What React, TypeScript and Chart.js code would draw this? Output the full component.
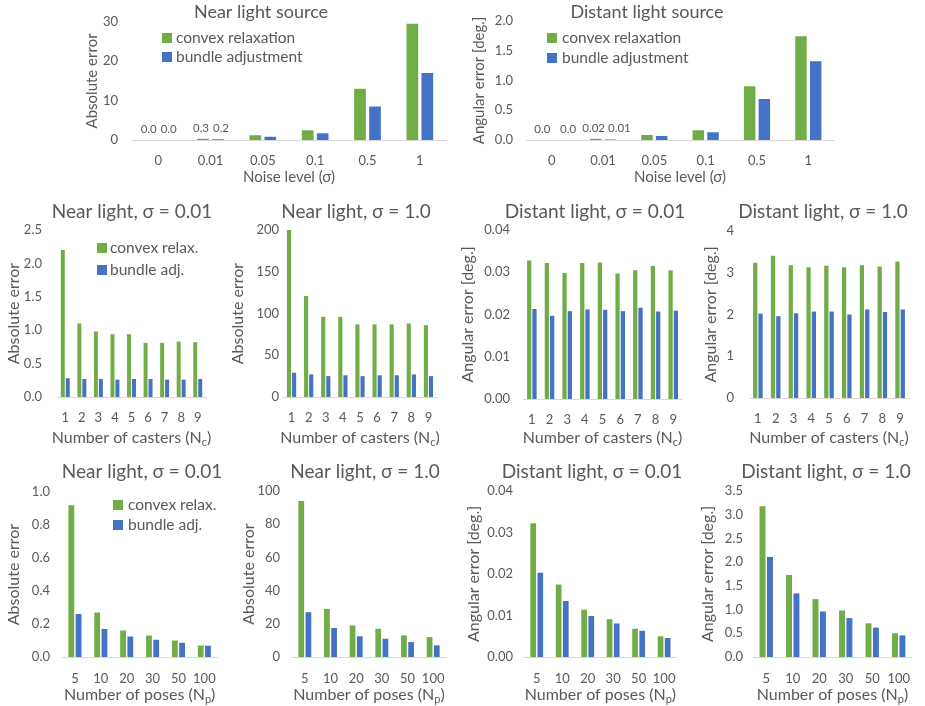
import React, { useEffect, useRef } from 'react';
import { Chart, registerables } from 'chart.js';
Chart.register(...registerables);

const GREEN = '#70AD47';
const BLUE = '#4472C4';
const TEXT = '#595959';
const AXIS = '#D9D9D9';
const FONT = 'Lato, "Open Sans", "DejaVu Sans", sans-serif';

// ---------- data ----------
const noiseLabels = ['0', '0.01', '0.05', '0.1', '0.5', '1'];
const nearNoiseConvex = [0.0, 0.3, 1.2, 2.5, 13.0, 29.5];
const nearNoiseBundle = [0.0, 0.2, 0.8, 1.7, 8.5, 17.0];
const distNoiseConvex = [0.0, 0.02, 0.083, 0.165, 0.9, 1.74];
const distNoiseBundle = [0.0, 0.01, 0.066, 0.13, 0.69, 1.32];
const labeledCats = [0, 1];
const nearLabelDecimals = [1, 1];
const distLabelDecimals = [1, 2];

const casterLabels = ['1', '2', '3', '4', '5', '6', '7', '8', '9'];
const nearC001Convex = [2.2, 1.1, 0.98, 0.94, 0.94, 0.81, 0.81, 0.83, 0.82];
const nearC001Bundle = [0.28, 0.27, 0.27, 0.26, 0.27, 0.27, 0.26, 0.26, 0.27];
const nearC1Convex = [200, 121, 96, 96, 87, 87, 87, 88, 86];
const nearC1Bundle = [29, 27, 25, 26, 25, 26, 26, 27, 25];
const distC001Convex = [0.0328, 0.0322, 0.0298, 0.0322, 0.0323, 0.0297, 0.0305, 0.0315, 0.0305];
const distC001Bundle = [0.0213, 0.0197, 0.0208, 0.0212, 0.0211, 0.0208, 0.0216, 0.0207, 0.0209];
const distC1Convex = [3.24, 3.41, 3.18, 3.13, 3.17, 3.13, 3.18, 3.15, 3.27];
const distC1Bundle = [2.02, 1.96, 2.03, 2.07, 2.07, 2.0, 2.12, 2.06, 2.12];

const poseLabels = ['5', '10', '20', '30', '50', '100'];
const nearP001Convex = [0.92, 0.27, 0.16, 0.13, 0.1, 0.07];
const nearP001Bundle = [0.26, 0.17, 0.125, 0.105, 0.087, 0.068];
const nearP1Convex = [94, 29, 19, 17, 13, 12];
const nearP1Bundle = [27, 17.5, 12.5, 11, 9, 7];
const distP001Convex = [0.0322, 0.0175, 0.0114, 0.0091, 0.0068, 0.005];
const distP001Bundle = [0.0203, 0.0135, 0.0099, 0.0081, 0.0063, 0.0046];
const distP1Convex = [3.18, 1.73, 1.22, 0.98, 0.71, 0.5];
const distP1Bundle = [2.11, 1.34, 0.96, 0.82, 0.62, 0.455];

const longLegend: [string, string] = ['convex relaxation', 'bundle adjustment'];
const shortLegend: [string, string] = ['convex relax.', 'bundle adj.'];

type Part = { t: string; sub?: boolean };
const noiseTitle: Part[] = [{ t: 'Noise level (σ)' }];
const casterTitle: Part[] = [{ t: 'Number of casters (N' }, { t: 'c', sub: true }, { t: ')' }];
const poseTitle: Part[] = [{ t: 'Number of poses (N' }, { t: 'p', sub: true }, { t: ')' }];

type PanelCfg = {
  id: string;
  box: [number, number, number, number];
  plot: [number, number, number, number];
  title: string;
  titleX: number;
  titleY: number;
  titleSize: number;
  yTitle: string;
  yTitleX: number;
  yTitleSize: number;
  yTickPad: number;
  yMax: number;
  yStep: number;
  yDec: number;
  xTitle: Part[];
  xTitleY: number;
  xTitleSize: number;
  xTickPad: number;
  labels: string[];
  convex: number[];
  bundle: number[];
  names: [string, string];
  catPct: number;
  barPct: number;
  legend?: { sqX: number; textX: number; y1: number; y2: number };
  dataLabelCats?: number[];
  dataLabelDec?: number[];
  labelNudge?: [number, number];
};

const panels: PanelCfg[] = [
  {
    id: 'A', box: [0, 0, 460, 190], plot: [132, 20, 446, 140],
    title: 'Near light source', titleX: 261, titleY: 12, titleSize: 18,
    yTitle: 'Absolute error', yTitleX: 92, yTitleSize: 15, yTickPad: 14, yMax: 30, yStep: 10, yDec: 0,
    xTitle: noiseTitle, xTitleY: 177, xTitleSize: 15, xTickPad: 13,
    labels: noiseLabels, convex: nearNoiseConvex, bundle: nearNoiseBundle, names: longLegend,
    catPct: 0.573, barPct: 0.78,
    legend: { sqX: 162, textX: 176, y1: 38, y2: 57 },
    dataLabelCats: labeledCats, dataLabelDec: nearLabelDecimals, labelNudge: [-2, 3],
  },
  {
    id: 'B', box: [460, 0, 465, 190], plot: [526, 19, 834, 140],
    title: 'Distant light source', titleX: 647, titleY: 12, titleSize: 18,
    yTitle: 'Angular error [deg.]', yTitleX: 479, yTitleSize: 15, yTickPad: 13, yMax: 2, yStep: 0.5, yDec: 1,
    xTitle: noiseTitle, xTitleY: 177, xTitleSize: 15, xTickPad: 13,
    labels: noiseLabels, convex: distNoiseConvex, bundle: distNoiseBundle, names: longLegend,
    catPct: 0.573, barPct: 0.78,
    legend: { sqX: 547, textX: 562, y1: 38, y2: 58 },
    dataLabelCats: labeledCats, dataLabelDec: distLabelDecimals, labelNudge: [-2, 9],
  },
  {
    id: 'M1', box: [0, 195, 230, 255], plot: [57, 230, 206, 397],
    title: 'Near light, σ = 0.01', titleX: 132, titleY: 212, titleSize: 19,
    yTitle: 'Absolute error', yTitleX: 14, yTitleSize: 16, yTickPad: 15, yMax: 2.5, yStep: 0.5, yDec: 1,
    xTitle: casterTitle, xTitleY: 438, xTitleSize: 16, xTickPad: 13,
    labels: casterLabels, convex: nearC001Convex, bundle: nearC001Bundle, names: shortLegend,
    catPct: 0.6, barPct: 0.8,
    legend: { sqX: 97, textX: 110, y1: 248, y2: 270 },
  },
  {
    id: 'M2', box: [230, 195, 230, 255], plot: [283, 230, 437, 397],
    title: 'Near light, σ = 1.0', titleX: 356, titleY: 212, titleSize: 19,
    yTitle: 'Absolute error', yTitleX: 237, yTitleSize: 16, yTickPad: 4, yMax: 200, yStep: 50, yDec: 0,
    xTitle: casterTitle, xTitleY: 438, xTitleSize: 16, xTickPad: 13,
    labels: casterLabels, convex: nearC1Convex, bundle: nearC1Bundle, names: shortLegend,
    catPct: 0.6, barPct: 0.8,
  },
  {
    id: 'M3', box: [460, 195, 230, 255], plot: [523, 230, 691, 399],
    title: 'Distant light, σ = 0.01', titleX: 595, titleY: 212, titleSize: 19,
    yTitle: 'Angular error [deg.]', yTitleX: 467, yTitleSize: 16, yTickPad: 13, yMax: 0.04, yStep: 0.01, yDec: 2,
    xTitle: casterTitle, xTitleY: 438, xTitleSize: 16, xTickPad: 13,
    labels: casterLabels, convex: distC001Convex, bundle: distC001Bundle, names: shortLegend,
    catPct: 0.6, barPct: 0.8,
  },
  {
    id: 'M4', box: [690, 195, 235, 255], plot: [749, 231, 909, 398],
    title: 'Distant light, σ = 1.0', titleX: 823, titleY: 212, titleSize: 19,
    yTitle: 'Angular error [deg.]', yTitleX: 711, yTitleSize: 16, yTickPad: 15, yMax: 4, yStep: 1, yDec: 0,
    xTitle: casterTitle, xTitleY: 438, xTitleSize: 16, xTickPad: 13,
    labels: casterLabels, convex: distC1Convex, bundle: distC1Bundle, names: shortLegend,
    catPct: 0.6, barPct: 0.8,
  },
  {
    id: 'B1', box: [0, 450, 230, 256], plot: [62, 492, 226, 657],
    title: 'Near light, σ = 0.01', titleX: 142, titleY: 472, titleSize: 19,
    yTitle: 'Absolute error', yTitleX: 13.5, yTitleSize: 16, yTickPad: 12, yMax: 1.0, yStep: 0.2, yDec: 1,
    xTitle: poseTitle, xTitleY: 695, xTitleSize: 16, xTickPad: 14,
    labels: poseLabels, convex: nearP001Convex, bundle: nearP001Bundle, names: shortLegend,
    catPct: 0.56, barPct: 0.8,
    legend: { sqX: 113, textX: 128, y1: 505, y2: 525 },
  },
  {
    id: 'B2', box: [230, 450, 230, 256], plot: [292, 491, 446, 657],
    title: 'Near light, σ = 1.0', titleX: 365, titleY: 472, titleSize: 19,
    yTitle: 'Absolute error', yTitleX: 249, yTitleSize: 16, yTickPad: 12, yMax: 100, yStep: 20, yDec: 0,
    xTitle: poseTitle, xTitleY: 695, xTitleSize: 16, xTickPad: 14,
    labels: poseLabels, convex: nearP1Convex, bundle: nearP1Bundle, names: shortLegend,
    catPct: 0.56, barPct: 0.8,
  },
  {
    id: 'B3', box: [460, 450, 230, 256], plot: [524, 491, 683, 657],
    title: 'Distant light, σ = 0.01', titleX: 592, titleY: 472, titleSize: 19,
    yTitle: 'Angular error [deg.]', yTitleX: 474, yTitleSize: 16, yTickPad: 11, yMax: 0.04, yStep: 0.01, yDec: 2,
    xTitle: poseTitle, xTitleY: 695, xTitleSize: 16, xTickPad: 14,
    labels: poseLabels, convex: distP001Convex, bundle: distP001Bundle, names: shortLegend,
    catPct: 0.56, barPct: 0.8,
  },
  {
    id: 'B4', box: [690, 450, 235, 256], plot: [753, 491, 913, 657],
    title: 'Distant light, σ = 1.0', titleX: 826, titleY: 472, titleSize: 19,
    yTitle: 'Angular error [deg.]', yTitleX: 708, yTitleSize: 16, yTickPad: 10, yMax: 3.5, yStep: 0.5, yDec: 1,
    xTitle: poseTitle, xTitleY: 695, xTitleSize: 16, xTickPad: 14,
    labels: poseLabels, convex: distP1Convex, bundle: distP1Bundle, names: shortLegend,
    catPct: 0.56, barPct: 0.8,
  },
];

function makeDeco(cfg: PanelCfg) {
  const [bl, bt] = cfg.box;
  return {
    id: 'deco' + cfg.id,
    afterDraw(chart: any) {
      const ctx: CanvasRenderingContext2D = chart.ctx;
      const ca = chart.chartArea;
      ctx.save();
      ctx.fillStyle = TEXT;
      ctx.textBaseline = 'middle';
      ctx.textAlign = 'center';
      ctx.font = `${cfg.titleSize}px ${FONT}`;
      ctx.fillText(cfg.title, cfg.titleX - bl, cfg.titleY - bt);

      // x-axis title with subscript
      const mainF = `${cfg.xTitleSize}px ${FONT}`;
      const subF = `${Math.round(cfg.xTitleSize * 0.66)}px ${FONT}`;
      let total = 0;
      for (const p of cfg.xTitle) {
        ctx.font = p.sub ? subF : mainF;
        total += ctx.measureText(p.t).width;
      }
      let x = (ca.left + ca.right) / 2 - total / 2;
      ctx.textAlign = 'left';
      for (const p of cfg.xTitle) {
        ctx.font = p.sub ? subF : mainF;
        ctx.fillText(p.t, x, cfg.xTitleY - bt + (p.sub ? 4 : 0));
        x += ctx.measureText(p.t).width;
      }

      // legend
      if (cfg.legend) {
        const lg = cfg.legend;
        ctx.font = `15.5px ${FONT}`;
        const items: [string, number, string][] = [
          [GREEN, lg.y1, chart.data.datasets[0].label],
          [BLUE, lg.y2, chart.data.datasets[1].label],
        ];
        for (const [c, y, s] of items) {
          ctx.fillStyle = c;
          ctx.fillRect(lg.sqX - bl, y - bt - 5, 10, 10);
          ctx.fillStyle = TEXT;
          ctx.fillText(s, lg.textX - bl, y - bt);
        }
      }

      // data labels
      if (cfg.dataLabelCats && cfg.dataLabelDec) {
        ctx.font = `11.5px ${FONT}`;
        ctx.fillStyle = TEXT;
        ctx.textAlign = 'center';
        ctx.textBaseline = 'bottom';
        const nudge = cfg.labelNudge ?? [0, 0];
        cfg.dataLabelCats.forEach((cat, k) => {
          for (let d = 0; d < 2; d++) {
            const el = chart.getDatasetMeta(d).data[cat];
            const v = chart.data.datasets[d].data[cat] as number;
            ctx.fillText(v.toFixed(cfg.dataLabelDec![k]), el.x + nudge[d], el.y - 5);
          }
        });
      }
      ctx.restore();
    },
  };
}

function Panel({ cfg }: { cfg: PanelCfg }) {
  const ref = useRef<HTMLCanvasElement>(null);
  useEffect(() => {
    const [bl, bt, bw, bh] = cfg.box;
    const [pl, pt, pr, pb] = cfg.plot;
    const l = pl - bl;
    const t = pt - bt;
    const r = pr - bl;
    const b = pb - bt;
    const chart = new Chart(ref.current!, {
      type: 'bar',
      data: {
        labels: cfg.labels,
        datasets: [
          { label: cfg.names[0], data: cfg.convex, backgroundColor: GREEN, categoryPercentage: cfg.catPct, barPercentage: cfg.barPct },
          { label: cfg.names[1], data: cfg.bundle, backgroundColor: BLUE, categoryPercentage: cfg.catPct, barPercentage: cfg.barPct },
        ],
      },
      options: {
        animation: false,
        responsive: false,
        devicePixelRatio: 1,
        layout: { padding: { left: 0, top: t, right: bw - r, bottom: 0 } },
        plugins: {
          legend: { display: false },
          title: { display: false },
          tooltip: { enabled: false },
        },
        scales: {
          x: {
            grid: { display: false, drawTicks: false },
            border: { display: true, color: AXIS, width: 1 },
            ticks: { color: TEXT, font: { size: 13, family: FONT }, padding: cfg.xTickPad, maxRotation: 0, autoSkip: false },
            afterFit: (s: any) => { s.height = bh - b; },
          },
          y: {
            min: 0,
            max: cfg.yMax,
            grid: { display: false, drawTicks: false },
            border: { display: false },
            ticks: {
              stepSize: cfg.yStep,
              color: TEXT,
              font: { size: 13, family: FONT },
              padding: cfg.yTickPad,
              callback: (v: any) => Number(v).toFixed(cfg.yDec),
            },
            title: {
              display: true,
              text: cfg.yTitle,
              color: TEXT,
              font: { size: cfg.yTitleSize, family: FONT, lineHeight: 1 },
              padding: { top: Math.max(0, cfg.yTitleX - bl - cfg.yTitleSize / 2), bottom: 0 },
            },
            afterFit: (s: any) => { s.width = l; },
          },
        },
      },
      plugins: [makeDeco(cfg)],
    } as any);
    return () => chart.destroy();
  }, [cfg]);
  const [bl, bt, bw, bh] = cfg.box;
  return (
    <canvas
      ref={ref}
      width={bw}
      height={bh}
      style={{ position: 'absolute', left: bl, top: bt, width: bw, height: bh }}
    />
  );
}

export default function App() {
  return (
    <div style={{ position: 'absolute', left: 0, top: 0, width: 925, height: 706, background: '#fff', overflow: 'hidden' }}>
      {panels.map((p) => (
        <Panel key={p.id} cfg={p} />
      ))}
    </div>
  );
}
